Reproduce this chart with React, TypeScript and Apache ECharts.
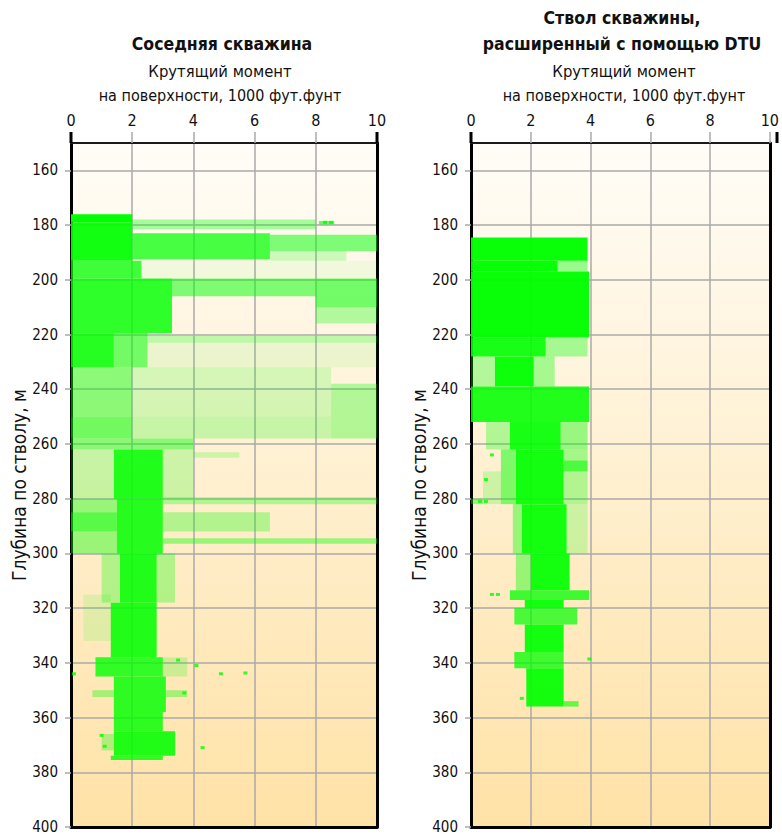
import React, { useEffect, useRef } from "react";
import * as echarts from "echarts";

// ---------- data ----------
const X_TICKS = [0, 2, 4, 6, 8, 10];
const Y_TICKS = [160, 180, 200, 220, 240, 260, 280, 300, 320, 340, 360, 380, 400];

const LEFT_TITLE = ["Соседняя скважина"];
const RIGHT_TITLE = ["Ствол скважины,", "расширенный с помощью DTU"];
const SUBTITLE = ["Крутящий момент", "на поверхности, 1000 фут.фунт"];
const Y_NAME = "Глубина по стволу, м";

// point-cloud bands: [depthTop, depthBottom, torqueMin, torqueMax, coverage]
const LEFT_BANDS: number[][] = [
  [176, 179, 0, 2.0, 1.0],
  [179, 193, 0, 2.0, 0.93],
  [178, 181.5, 2.0, 8.0, 0.35],
  [178.5, 179.8, 8.1, 8.6, 0.6],
  [183, 192.5, 2.0, 6.5, 0.72],
  [183.5, 189.5, 6.5, 10, 0.5],
  [189.5, 193, 6.5, 9, 0.2],
  [193, 199.5, 0, 2.3, 0.75],
  [193, 199.5, 2.3, 10, 0.05],
  [199.5, 219.5, 0, 3.3, 0.82],
  [199.5, 206, 3.3, 8.0, 0.5],
  [199.5, 210, 8.0, 10, 0.55],
  [210, 216, 8.0, 10, 0.3],
  [219.5, 232, 0, 1.4, 0.85],
  [219.5, 232, 1.4, 2.5, 0.55],
  [220.5, 223, 2.5, 10, 0.25],
  [223, 232, 2.5, 10, 0.08],
  [232, 250, 0, 2.0, 0.45],
  [232, 250, 2.0, 8.5, 0.17],
  [238, 258, 8.5, 10, 0.3],
  [250, 258, 0, 2.0, 0.55],
  [250, 258, 2.0, 8.5, 0.22],
  [258, 262, 0, 4.0, 0.45],
  [262, 280, 1.4, 3.0, 0.87],
  [262, 280, 0, 1.4, 0.22],
  [262, 280, 3.0, 4.0, 0.2],
  [263, 265, 4.0, 5.5, 0.2],
  [280, 300, 1.5, 3.0, 0.85],
  [280, 285, 0, 1.5, 0.4],
  [285, 292, 0, 1.5, 0.65],
  [292, 300, 0, 1.5, 0.4],
  [279.5, 282, 3.0, 10, 0.3],
  [285, 292, 3.0, 6.5, 0.3],
  [294.5, 296.5, 3.0, 10, 0.4],
  [300, 318, 1.6, 2.8, 0.87],
  [300, 318, 1.0, 1.6, 0.3],
  [300, 318, 2.8, 3.4, 0.3],
  [318, 338, 1.3, 2.8, 0.87],
  [315, 332, 0.4, 1.3, 0.12],
  [338, 345, 0.8, 3.0, 0.8],
  [338, 345, 3.0, 3.8, 0.2],
  [345, 358, 1.4, 3.1, 0.82],
  [350, 352.5, 0.7, 1.4, 0.35],
  [350, 352.5, 3.1, 3.8, 0.35],
  [358, 365, 1.4, 3.0, 0.82],
  [365, 374, 1.4, 3.4, 0.87],
  [374, 375.5, 1.3, 3.0, 0.8],
  [366, 372, 1.0, 1.4, 0.3],
];

const RIGHT_BANDS: number[][] = [
  [184.5, 193, 0, 3.9, 0.97],
  [193, 197, 0, 2.9, 0.97],
  [193, 197, 2.9, 3.9, 0.4],
  [197, 221, 0, 3.95, 0.97],
  [221, 228, 0, 2.5, 0.9],
  [221, 228, 2.5, 3.9, 0.35],
  [228, 239, 0.8, 2.1, 0.95],
  [228, 239, 0, 0.8, 0.3],
  [228, 239, 2.1, 2.8, 0.35],
  [239, 252, 0, 3.95, 0.87],
  [252, 262, 1.3, 3.0, 0.9],
  [252, 262, 0.5, 1.3, 0.3],
  [252, 262, 3.0, 3.9, 0.4],
  [262, 282, 1.5, 3.1, 0.92],
  [262, 282, 1.0, 1.5, 0.5],
  [262, 266, 3.1, 3.9, 0.35],
  [266, 270, 3.1, 3.9, 0.7],
  [270, 282, 3.1, 3.9, 0.3],
  [270, 282, 0.4, 1.0, 0.2],
  [280, 282, 0, 0.4, 0.4],
  [282, 300, 1.7, 3.2, 0.92],
  [282, 300, 1.4, 1.7, 0.4],
  [282, 300, 3.2, 3.9, 0.2],
  [300, 313.5, 2.0, 3.3, 0.92],
  [300, 313.5, 1.5, 2.0, 0.4],
  [313.5, 317, 1.3, 3.95, 0.75],
  [317, 320, 1.8, 3.1, 0.92],
  [320, 326, 1.45, 3.55, 0.7],
  [326, 336, 1.8, 3.1, 0.92],
  [336, 342, 1.45, 3.1, 0.75],
  [342, 356, 1.85, 3.1, 0.92],
  [354, 356, 3.1, 3.6, 0.6],
];

// isolated points: [torque, depth]
const LEFT_POINTS: number[][] = [
  [8.3, 179], [8.5, 179], [4.9, 344], [5.7, 343.7], [4.1, 341], [0.1, 344],
  [4.3, 371], [3.5, 339], [3.7, 351], [1.0, 366.5], [1.1, 370.5],
];
const RIGHT_POINTS: number[][] = [
  [0.7, 315], [0.9, 315], [3.96, 338.6], [1.7, 353], [0.5, 281], [0.3, 281],
  [0.7, 264], [0.5, 273],
];

// ---------- styling ----------
const FONT = "'Liberation Sans Narrow', 'DejaVu Sans Condensed', 'Arial Narrow', sans-serif";
const GRID_GRAY = "#aaaaaa";
const GREEN = "#00ff00";

const renderBand = (_params: any, api: any) => {
  const p0 = api.coord([api.value(2), api.value(0)]);
  const p1 = api.coord([api.value(3), api.value(1)]);
  const a = api.value(4);
  return {
    type: "rect",
    shape: {
      x: Math.min(p0[0], p1[0]),
      y: Math.min(p0[1], p1[1]),
      width: Math.abs(p1[0] - p0[0]),
      height: Math.abs(p1[1] - p0[1]),
    },
    style: { fill: GREEN, opacity: Math.min(1, a) },
  };
};

export default function App() {
  const ref = useRef<HTMLDivElement>(null);
  useEffect(() => {
    const chart = echarts.init(ref.current!, null, { renderer: "svg" });
    const bg = new echarts.graphic.LinearGradient(0, 0, 0, 1, [
      { offset: 0, color: "#fffdf8" },
      { offset: 1, color: "#ffe2a6" },
    ]);
    const grids = [
      { left: 71, top: 143, width: 306, height: 684 },
      { left: 471, top: 143, width: 306, height: 684 },
    ].map((g) => ({ ...g, show: true, backgroundColor: bg, borderWidth: 0, containLabel: false }));

    const topX = (gi: number) => ({
      type: "value",
      gridIndex: gi,
      position: "top",
      min: 0,
      max: 10,
      interval: 2,
      axisLine: { show: true, onZero: false, lineStyle: { color: "#1a1a1a", width: 2 } },
      axisTick: { show: true, length: 11, lineStyle: { color: GRID_GRAY, width: 1.5 }, customValues: X_TICKS },
      axisLabel: { show: true, fontSize: 16, color: "#111", fontFamily: FONT, margin: 15, customValues: X_TICKS },
      splitLine: { show: true, lineStyle: { color: GRID_GRAY, width: 1.5 } },
    });
    const bottomX = (gi: number) => ({
      type: "value",
      gridIndex: gi,
      position: "bottom",
      min: 0,
      max: 10,
      axisLine: { show: true, onZero: false, lineStyle: { color: "#000", width: 3 } },
      axisTick: { show: false },
      axisLabel: { show: false },
      splitLine: { show: false },
    });
    const leftY = (gi: number) => ({
      type: "value",
      gridIndex: gi,
      inverse: true,
      min: 150,
      max: 400,
      name: Y_NAME,
      nameLocation: "middle",
      nameRotate: 90,
      nameGap: 43,
      nameTextStyle: { fontSize: 19, color: "#111", fontFamily: FONT },
      axisLine: { show: true, onZero: false, lineStyle: { color: "#000", width: 3 } },
      axisTick: { show: true, length: 6, lineStyle: { color: GRID_GRAY, width: 1.5 }, customValues: Y_TICKS },
      axisLabel: { show: true, fontSize: 15, color: "#111", fontFamily: FONT, margin: 13, customValues: Y_TICKS },
      splitLine: { show: true, lineStyle: { color: GRID_GRAY, width: 1.5 } },
    });
    const rightY = (gi: number) => ({
      type: "value",
      gridIndex: gi,
      inverse: true,
      position: "right",
      min: 150,
      max: 400,
      axisLine: { show: true, onZero: false, lineStyle: { color: "#000", width: 3 } },
      axisTick: { show: false },
      axisLabel: { show: false },
      splitLine: { show: false },
    });

    const bandSeries = (data: number[][], xi: number, yi: number) => ({
      type: "custom",
      xAxisIndex: xi,
      yAxisIndex: yi,
      clip: true,
      renderItem: renderBand,
      encode: { x: [2, 3], y: [0, 1] },
      data,
      z: 3,
    });
    const pointSeries = (data: number[][], xi: number, yi: number) => ({
      type: "scatter",
      xAxisIndex: xi,
      yAxisIndex: yi,
      symbol: "rect",
      symbolSize: [4, 3],
      itemStyle: { color: GREEN },
      data,
      z: 3,
    });

    const titleText = (text: string, x: number, y: number, bold: boolean, size: number) => ({
      type: "text",
      x,
      y,
      style: {
        text,
        fill: "#111",
        fontFamily: FONT,
        fontSize: size,
        fontWeight: bold ? "bold" : "normal",
        align: "center",
        verticalAlign: "middle",
      },
    });
    const borderExt = (x: number) => ({
      type: "line",
      shape: { x1: x, y1: 132, x2: x, y2: 143 },
      style: { stroke: "#000", lineWidth: 3 },
      z: 10,
    });

    const option: any = {
      animation: false,
      backgroundColor: "#ffffff",
      grid: grids,
      xAxis: [topX(0), topX(1), bottomX(0), bottomX(1)],
      yAxis: [leftY(0), leftY(1), rightY(0), rightY(1)],
      series: [
        bandSeries(LEFT_BANDS, 0, 0),
        pointSeries(LEFT_POINTS, 0, 0),
        bandSeries(RIGHT_BANDS, 1, 1),
        pointSeries(RIGHT_POINTS, 1, 1),
      ],
      graphic: [
        titleText(LEFT_TITLE[0], 222, 44, true, 17.5),
        titleText(SUBTITLE[0], 220, 71, false, 16.5),
        titleText(SUBTITLE[1], 220, 95, false, 16),
        titleText(RIGHT_TITLE[0], 622, 18, true, 17.5),
        titleText(RIGHT_TITLE[1], 622, 44, true, 17.5),
        titleText(SUBTITLE[0], 624, 71, false, 16.5),
        titleText(SUBTITLE[1], 624, 95, false, 16),
        borderExt(71),
        borderExt(377),
        borderExt(471),
        borderExt(777),
      ],
    };
    chart.setOption(option);
    return () => chart.dispose();
  }, []);
  return (
    <div
      ref={ref}
      style={{ position: "fixed", left: 0, top: 0, width: 782, height: 837, background: "#fff" }}
    />
  );
}
